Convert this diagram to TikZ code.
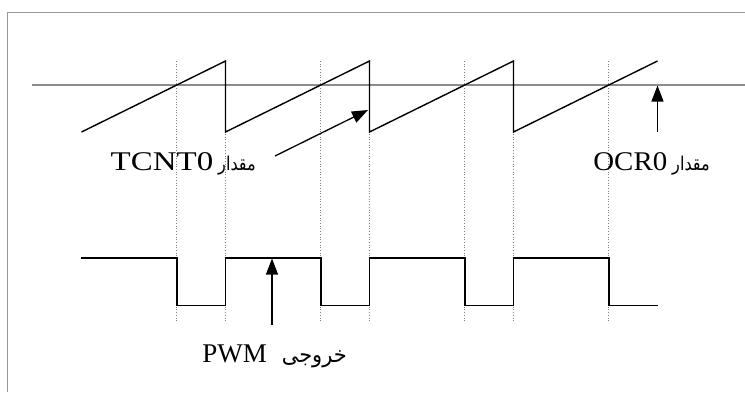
\documentclass[tikz,border=0pt]{standalone}
\usepackage{fontspec}
\setmainfont{Liberation Serif}
\newfontfamily\arabicfont[Script=Arabic]{DejaVu Sans}
\TeXXeTstate=1
\usetikzlibrary{arrows.meta}
\begin{document}
\begin{tikzpicture}[x=1pt,y=-1pt,
  frame/.style={draw=black!40, line width=1.6pt},
  refline/.style={draw=black!45, line width=1.4pt},
  wave/.style={draw=black, line width=1.4pt, line join=miter},
  guide/.style={draw=black!50, line width=0.8pt, dash pattern=on 0.8pt off 1.9pt},
  pointer/.style={draw=black, line width=1.3pt, -{Triangle[length=16pt,width=12pt]}},
  lbl/.style={inner sep=0pt, font=\fontsize{27}{30}\selectfont}
]
\useasboundingbox (0,0) rectangle (745,392);
% frame (cut off at right and bottom)
\draw[frame] (745,12.3) -- (7.3,12.3) -- (7.3,392);
% OCR0 reference level
\draw[refline] (32,85) -- (745,85);
% dotted guides
\foreach \x in {176.8,225.5,320.8,369.5,464.8,513.5,608.8}
  \draw[guide] (\x,61) -- (\x,322);
% sawtooth (TCNT0)
\draw[wave] (81.5,132) -- (225.5,61) -- (225.5,132) -- (369.5,61) -- (369.5,132)
  -- (513.5,61) -- (513.5,132) -- (657.5,61);
% PWM output
\draw[wave] (81,258) -- (176.8,258) -- (176.8,305.3) -- (225.5,305.3) -- (225.5,258)
  -- (320.8,258) -- (320.8,305.3) -- (369.5,305.3) -- (369.5,258) -- (464.8,258)
  -- (464.8,305.3) -- (513.5,305.3) -- (513.5,258) -- (608.8,258) -- (608.8,305.3)
  -- (658,305.3);
% labels
\node[lbl, anchor=base east] (tlab) at (256,170)
  {\scalebox{1.22}[1]{TCNT0}\hspace{5pt}\scalebox{0.85}[1]{\arabicfont\fontsize{19}{22}\selectfont\beginR مقدار\endR}};
\node[lbl, anchor=base east] (olab) at (710,170)
  {\scalebox{1.07}[1]{OCR0}\hspace{5pt}\scalebox{0.85}[1]{\arabicfont\fontsize{19}{22}\selectfont\beginR مقدار\endR}};
\node[lbl, anchor=base east] (plab) at (347,362)
  {PWM\hspace{15pt}\scalebox{0.95}[1]{\arabicfont\fontsize{22}{26}\selectfont\beginR خروجی\endR}};
% arrow end points
\coordinate (tfrom) at (275,156);
\coordinate (tto) at (368,110);
\coordinate (ofrom) at (657.5,132);
\coordinate (oto) at (657.5,85.5);
\coordinate (pfrom) at (272,325);
\coordinate (pto) at (272,258.5);
\draw[pointer] (tfrom) -- (tto);
\draw[pointer] (ofrom) -- (oto);
\draw[pointer] (pfrom) -- (pto);
\end{tikzpicture}
\end{document}
